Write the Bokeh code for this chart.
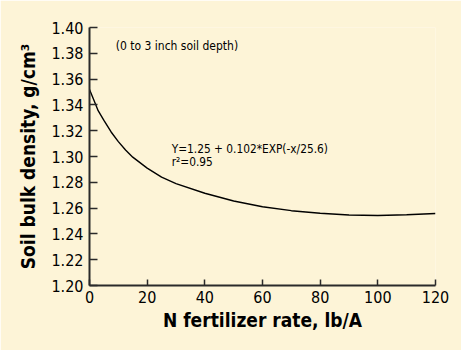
from bokeh.plotting import figure
from bokeh.models import Range1d, FixedTicker, Label
from bokeh.embed import file_html
from bokeh.resources import INLINE

# Data
n_rate = [0, 1, 2, 3, 5, 7.5, 10, 12.5, 15, 20, 25, 30, 40, 50, 60, 70, 80, 90, 100, 110, 120]
bulk_density = [1.352, 1.3465, 1.341, 1.3355, 1.328, 1.319, 1.3115, 1.305, 1.2995, 1.291, 1.284,
                1.279, 1.2715, 1.2655, 1.261, 1.258, 1.256, 1.2547, 1.2543, 1.2548, 1.2558]
x_ticks = [0, 20, 40, 60, 80, 100, 120]
y_ticks = [1.20, 1.22, 1.24, 1.26, 1.28, 1.30, 1.32, 1.34, 1.36, 1.38, 1.40]
y_tick_labels = ["1.20", "1.22", "1.24", "1.26", "1.28", "1.30", "1.32", "1.34", "1.36", "1.38", "1.40"]
depth_note = "(0 to 3 inch soil depth)"
equation = "Y=1.25 + 0.102*EXP(-x/25.6)"
r_squared = "r²=0.95"

BG = "#FDF4D7"
AX = "#2a2a2a"
FONT = "DejaVu Sans Condensed"

p = figure(width=461, height=350, output_backend="svg", toolbar_location=None,
           x_range=Range1d(0, 120), y_range=Range1d(1.20, 1.40),
           min_border_left=89, min_border_right=26, min_border_top=27, min_border_bottom=65)
p.background_fill_color = BG
p.border_fill_color = BG
p.outline_line_color = None
p.grid.visible = False

p.line(n_rate, bulk_density, line_color="black", line_width=1.4)

p.xaxis.ticker = FixedTicker(ticks=x_ticks)
p.yaxis.ticker = FixedTicker(ticks=y_ticks)
p.yaxis.major_label_overrides = {t: l for t, l in zip(y_ticks, y_tick_labels)}
p.xaxis.axis_label = "N fertilizer rate, lb/A"
p.yaxis.axis_label = "Soil bulk density, g/cm³"

for ax in (p.xaxis[0], p.yaxis[0]):
    ax.axis_line_color = AX
    ax.axis_line_width = 2
    ax.major_tick_line_color = AX
    ax.major_tick_line_width = 1.5
    ax.major_tick_out = 0
    ax.minor_tick_line_color = None
    ax.major_label_text_font = FONT
    ax.major_label_text_font_size = "16px"
    ax.major_label_text_color = "black"
    ax.axis_label_text_font = FONT
    ax.axis_label_text_font_style = "bold"
    ax.axis_label_text_font_size = "19px"
    ax.axis_label_text_color = "black"

p.xaxis.major_tick_in = 6
p.yaxis.major_tick_in = 8
p.xaxis.major_label_standoff = 5
p.yaxis.major_label_standoff = 6
p.xaxis.axis_label_standoff = 3
p.yaxis.axis_label_standoff = 9

p.add_layout(Label(x=9.1, y=1.391, text=depth_note, text_font=FONT, text_font_size="12px",
                   text_baseline="top", text_color="black"))
p.add_layout(Label(x=28.5, y=1.3115, text=equation, text_font=FONT, text_font_size="11.8px",
                   text_baseline="top", text_color="black"))
p.add_layout(Label(x=28.5, y=1.3015, text=r_squared, text_font=FONT, text_font_size="11.8px",
                   text_baseline="top", text_color="black"))

open("out.html", "w").write(file_html(p, INLINE))
